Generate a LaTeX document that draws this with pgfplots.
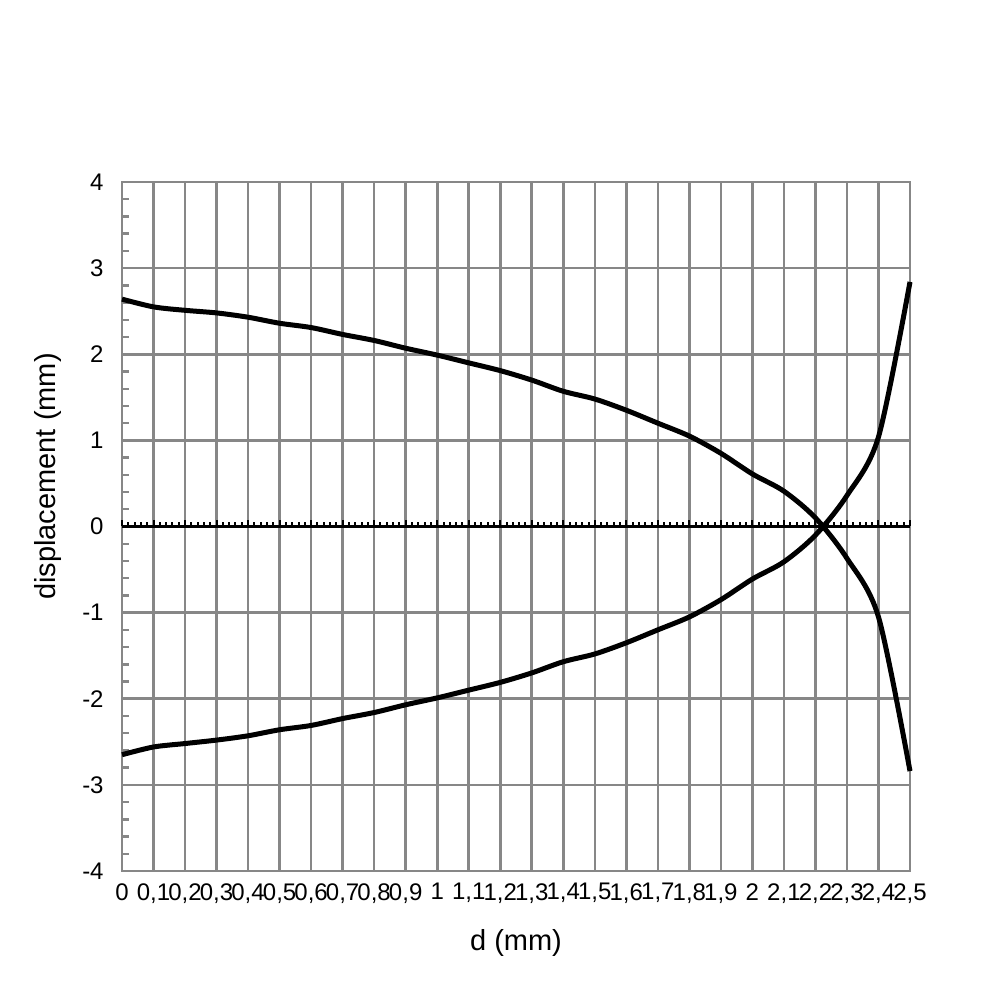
\documentclass[border=0pt]{standalone}
\usepackage{pgfplots}
\pgfplotsset{compat=1.18}
\usepackage{fontspec}
\setmainfont{Liberation Sans}
\definecolor{gridgray}{RGB}{135,135,135}
\begin{document}
\begin{tikzpicture}
\begin{axis}[
  name=ax,
  at={(0,0)}, anchor=south west,
  scale only axis,
  width=394pt, height=344.5pt,
  xmin=0, xmax=2.5, ymin=-4, ymax=4,
  xtick={0,0.1,0.2,0.3,0.4,0.5,0.6,0.7,0.8,0.9,1,1.1,1.2,1.3,1.4,1.5,1.6,1.7,1.8,1.9,2,2.1,2.2,2.3,2.4,2.5},
  xticklabels={0,{0,1},{0,2},{0,3},{0,4},{0,5},{0,6},{0,7},{0,8},{0,9},1,{1,1},{1,2},{1,3},{1,4},{1,5},{1,6},{1,7},{1,8},{1,9},2,{2,1},{2,2},{2,3},{2,4},{2,5}},
  ytick={-4,-3,-2,-1,0,1,2,3,4},
  yticklabels={-4,-3,-2,-1,0,1,2,3,4},
  minor y tick num=4,
  ytick pos=left, xtick pos=bottom,
  tick align=inside,
  major tick length=0pt,
  minor tick length=3.5pt,
  tick style={gridgray, line width=1.2pt},
  grid=major,
  major grid style={gridgray, line width=1.3pt},
  axis line style={gridgray, line width=1.3pt},
  tick label style={font=\fontsize{12pt}{14pt}\selectfont, black},
  xticklabel style={yshift=-6pt, inner sep=0pt},
  yticklabel style={xshift=-9pt, inner sep=0pt},
  xlabel={d (mm)},
  ylabel={displacement (mm)},
  label style={font=\fontsize{14.5pt}{17pt}\selectfont},
  xlabel style={at={(axis description cs:0.5,0)}, anchor=center, yshift=-36pt},
  ylabel style={at={(axis description cs:0,0.5)}, anchor=center, xshift=25pt, yshift=37pt},
  clip=false,
]
\addplot[black, line width=2.5pt, smooth, tension=0.5] coordinates {
(0,2.64) (0.1,2.55) (0.2,2.51) (0.3,2.48) (0.4,2.43) (0.5,2.36) (0.6,2.31)
(0.7,2.23) (0.8,2.16) (0.9,2.07) (1.0,1.99) (1.1,1.90) (1.2,1.81) (1.3,1.70)
(1.4,1.57) (1.5,1.48) (1.6,1.35) (1.7,1.20) (1.8,1.05) (1.9,0.85) (2.0,0.61)
(2.1,0.41) (2.2,0.10) (2.3,-0.37) (2.4,-1.05) (2.5,-2.84)
};
\addplot[black, line width=2.5pt, smooth, tension=0.5] coordinates {
(0,-2.65) (0.1,-2.56) (0.2,-2.52) (0.3,-2.48) (0.4,-2.43) (0.5,-2.36) (0.6,-2.31)
(0.7,-2.23) (0.8,-2.16) (0.9,-2.07) (1.0,-1.99) (1.1,-1.90) (1.2,-1.81) (1.3,-1.70)
(1.4,-1.57) (1.5,-1.48) (1.6,-1.35) (1.7,-1.20) (1.8,-1.05) (1.9,-0.85) (2.0,-0.61)
(2.1,-0.41) (2.2,-0.10) (2.3,0.36) (2.4,1.04) (2.5,2.84)
};
\end{axis}
\begin{axis}[
  at={(ax.west)}, anchor=south west,
  scale only axis,
  width=394pt, height=172.25pt,
  xmin=0, xmax=2.5, ymin=0, ymax=4,
  axis x line=bottom, axis y line=none,
  x axis line style={-, black, line width=1.6pt},
  xtick={0,0.1,0.2,0.3,0.4,0.5,0.6,0.7,0.8,0.9,1,1.1,1.2,1.3,1.4,1.5,1.6,1.7,1.8,1.9,2,2.1,2.2,2.3,2.4,2.5},
  xticklabels={},
  minor x tick num=4,
  tick align=inside,
  major tick length=3pt,
  minor tick length=2pt,
  tick style={black, line width=1pt},
]
\end{axis}
\path (-61pt,-64.5pt) rectangle (439pt,435.5pt);
\end{tikzpicture}
\end{document}
